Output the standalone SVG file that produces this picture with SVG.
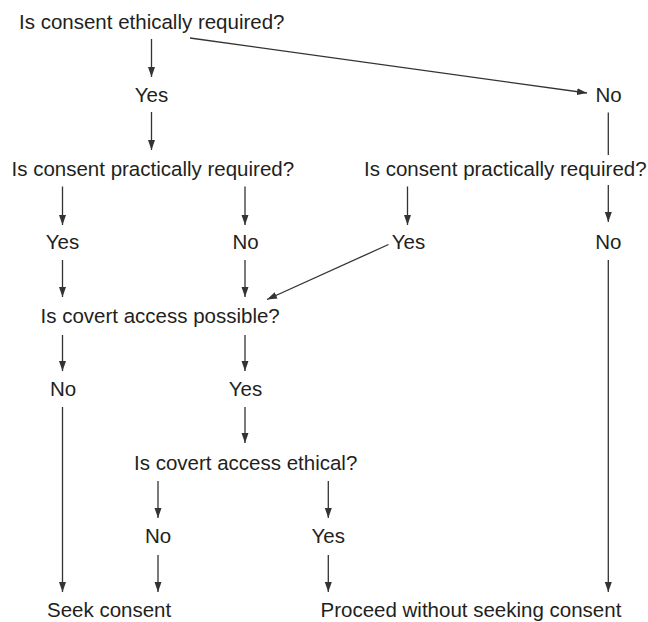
<svg xmlns="http://www.w3.org/2000/svg" width="648" height="622" viewBox="0 0 648 622">
<style>
text{font-family:"Liberation Sans",Arial,sans-serif;font-size:20.5px;fill:#231f20}
.m{text-anchor:middle}
.c{fill:none;stroke:#333;stroke-width:1.3}
</style>
<defs>
<marker id="ah" markerUnits="userSpaceOnUse" markerWidth="11" markerHeight="8" refX="10" refY="3.5" orient="auto">
<path d="M0,0 L10,3.5 L0,7 z" fill="#333"/>
</marker>
</defs>
<rect width="648" height="622" fill="#fff"/>
<g id="connectors">
<line class="c" x1="151.5" y1="39" x2="151.5" y2="77" marker-end="url(#ah)"/>
<line class="c" x1="190" y1="38" x2="587" y2="93" marker-end="url(#ah)"/>
<line class="c" x1="151.5" y1="112" x2="151.5" y2="150" marker-end="url(#ah)"/>
<line class="c" x1="608.3" y1="112.5" x2="608.3" y2="155"/>
<line class="c" x1="62.5" y1="186.5" x2="62.5" y2="225" marker-end="url(#ah)"/>
<line class="c" x1="245" y1="186.5" x2="245" y2="225" marker-end="url(#ah)"/>
<line class="c" x1="407.5" y1="186.5" x2="407.5" y2="225" marker-end="url(#ah)"/>
<line class="c" x1="608.3" y1="185" x2="608.3" y2="222" marker-end="url(#ah)"/>
<line class="c" x1="62.5" y1="260" x2="62.5" y2="297" marker-end="url(#ah)"/>
<line class="c" x1="245" y1="260" x2="245" y2="297" marker-end="url(#ah)"/>
<line class="c" x1="388.5" y1="244.5" x2="267" y2="299.5" marker-end="url(#ah)"/>
<line class="c" x1="608.3" y1="260" x2="608.3" y2="592" marker-end="url(#ah)"/>
<line class="c" x1="62.5" y1="335" x2="62.5" y2="371" marker-end="url(#ah)"/>
<line class="c" x1="245" y1="335" x2="245" y2="371" marker-end="url(#ah)"/>
<line class="c" x1="62.5" y1="407" x2="62.5" y2="592" marker-end="url(#ah)"/>
<line class="c" x1="245" y1="407" x2="245" y2="443" marker-end="url(#ah)"/>
<line class="c" x1="158" y1="481" x2="158" y2="518" marker-end="url(#ah)"/>
<line class="c" x1="328.3" y1="481" x2="328.3" y2="518" marker-end="url(#ah)"/>
<line class="c" x1="158" y1="555" x2="158" y2="592" marker-end="url(#ah)"/>
<line class="c" x1="328.3" y1="555" x2="328.3" y2="592" marker-end="url(#ah)"/>
</g>
<g id="q1"><text x="19" y="28.5">Is consent ethically required?</text></g>
<g id="q1-yes"><text class="m" x="151.5" y="102">Yes</text></g>
<g id="q1-no"><text class="m" x="608.5" y="102">No</text></g>
<g id="q2a"><text x="11.5" y="175.5">Is consent practically required?</text></g>
<g id="q2b"><text x="364" y="175.5">Is consent practically required?</text></g>
<g id="q2a-yes"><text class="m" x="62.5" y="249">Yes</text></g>
<g id="q2a-no"><text class="m" x="245.5" y="249">No</text></g>
<g id="q2b-yes"><text class="m" x="408.5" y="249">Yes</text></g>
<g id="q2b-no"><text class="m" x="608.3" y="249">No</text></g>
<g id="q3"><text x="40.5" y="322.5">Is covert access possible?</text></g>
<g id="q3-no"><text class="m" x="63" y="396">No</text></g>
<g id="q3-yes"><text class="m" x="245.5" y="396">Yes</text></g>
<g id="q4"><text x="134" y="469.5">Is covert access ethical?</text></g>
<g id="q4-no"><text class="m" x="158" y="543">No</text></g>
<g id="q4-yes"><text class="m" x="328.3" y="543">Yes</text></g>
<g id="seek"><text x="47" y="616.5">Seek consent</text></g>
<g id="proceed"><text x="320.5" y="616.5">Proceed without seeking consent</text></g>
</svg>
